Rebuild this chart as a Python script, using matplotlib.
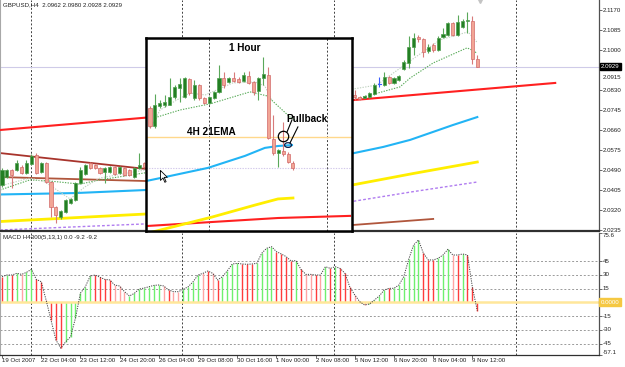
import numpy as np
import matplotlib
matplotlib.use("Agg")
import matplotlib.pyplot as plt
from matplotlib import font_manager
from matplotlib.patches import Rectangle, Ellipse
from matplotlib.path import Path

# ====================== DATA ======================
symbol = "GBPUSD"
timeframe = "H4"
macd_title = "MACD H4300(5,13,1) 0.0 -9.2 -9.2"
inset_title = "1 Hour"
ema_label = "4H 21EMA"
pullback_label = "Pullback"

# H4 candles visible outside the inset (bar index)
h4_bar = list(range(0, 30)) + list(range(72, 98))
h4_open = [2.0426, 2.0460, 2.0490, 2.0490, 2.0503, 2.0477, 2.0516, 2.0554, 2.0481, 2.0520,
           2.0439, 2.0333, 2.0290, 2.0312, 2.0350, 2.0363, 2.0435, 2.0473, 2.0520, 2.0511,
           2.0499, 2.0481, 2.0481, 2.0503, 2.0477, 2.0499, 2.0490, 2.0460, 2.0499, 2.0520,
           2.0809, 2.0800, 2.0798, 2.0800, 2.0813, 2.0856, 2.0851, 2.0885, 2.0860, 2.0872,
           2.0919, 2.0945, 2.1013, 2.1055, 2.1047, 2.0996, 2.1021, 2.1000, 2.1055, 2.1064,
           2.1115, 2.1064, 2.1098, 2.1123, 2.1123, 2.0962]
h4_high = [2.0499, 2.0494, 2.0494, 2.0532, 2.0511, 2.0532, 2.0558, 2.0562, 2.0524, 2.0524,
           2.0443, 2.0337, 2.0320, 2.0367, 2.0371, 2.0439, 2.0503, 2.0515, 2.0524, 2.0515,
           2.0503, 2.0503, 2.0507, 2.0507, 2.0507, 2.0503, 2.0494, 2.0503, 2.0562, 2.0524,
           2.0830, 2.0804, 2.0809, 2.0821, 2.0860, 2.0885, 2.0907, 2.0890, 2.0885, 2.0894,
           2.0958, 2.1060, 2.1072, 2.1064, 2.1051, 2.1026, 2.1030, 2.1060, 2.1094, 2.1119,
           2.1119, 2.1149, 2.1132, 2.1162, 2.1145, 2.0980]
h4_low = [2.0418, 2.0456, 2.0414, 2.0486, 2.0473, 2.0473, 2.0511, 2.0473, 2.0477, 2.0435,
          2.0290, 2.0265, 2.0282, 2.0307, 2.0346, 2.0358, 2.0430, 2.0469, 2.0494, 2.0494,
          2.0473, 2.0435, 2.0477, 2.0469, 2.0473, 2.0465, 2.0465, 2.0456, 2.0494, 2.0499,
          2.0788, 2.0788, 2.0796, 2.0796, 2.0809, 2.0843, 2.0847, 2.0856, 2.0856, 2.0868,
          2.0915, 2.0924, 2.0979, 2.1034, 2.0970, 2.0987, 2.0992, 2.0996, 2.1051, 2.1060,
          2.1060, 2.1060, 2.1094, 2.1072, 2.0940, 2.0928]
h4_close = [2.0490, 2.0490, 2.0469, 2.0520, 2.0477, 2.0520, 2.0550, 2.0477, 2.0520, 2.0439,
            2.0333, 2.0299, 2.0316, 2.0363, 2.0367, 2.0435, 2.0490, 2.0511, 2.0499, 2.0499,
            2.0477, 2.0499, 2.0503, 2.0473, 2.0503, 2.0469, 2.0469, 2.0499, 2.0511, 2.0503,
            2.0800, 2.0792, 2.0804, 2.0817, 2.0851, 2.0856, 2.0885, 2.0860, 2.0881, 2.0890,
            2.0949, 2.1013, 2.1051, 2.1047, 2.0992, 2.1013, 2.1000, 2.1051, 2.1068, 2.1115,
            2.1064, 2.1119, 2.1123, 2.1128, 2.0962, 2.0929]

# H4 moving averages / trend lines (bar, price)
ema_blue_bar = [-0.4, 15, 29.4, 71.4, 77.8, 83.3, 88, 92, 97]
ema_blue_val = [2.0386, 2.0392, 2.0405, 2.0560, 2.0588, 2.0618, 2.0652, 2.0681, 2.0715]
ma_yellow_bar = [-0.4, 29.4, 71.4, 83.9, 97]
ma_yellow_val = [2.0271, 2.0303, 2.0426, 2.0475, 2.0524]
ma_purple_bar = [-0.4, 29.4, 71.4, 83.9, 97]
ma_purple_val = [2.0235, 2.0261, 2.0356, 2.0398, 2.0439]
ma_slow_bar = [-0.4, 5.7, 9.8, 15.9, 20.0, 29.2, 71.6, 81.2, 83.3, 88.0, 94.9, 95.9, 96.9]
ma_slow_val = [2.0405, 2.0448, 2.0443, 2.0430, 2.0448, 2.0478, 2.0788, 2.0843, 2.0881, 2.0945, 2.1009, 2.1000, 2.0987]
ma_fast_bar = [-0.4, 5.7, 8.8, 13.9, 16.9, 20.0, 29.2, 71.6, 76.5, 82.7, 89.4, 95.1, 96.9]
ma_fast_val = [2.0422, 2.0456, 2.0439, 2.0367, 2.0418, 2.0456, 2.0490, 2.0834, 2.0851, 2.0945, 2.1043, 2.1077, 2.1034]
trend_red_bar = [-0.4, 112.9]
trend_red_val = [2.0660, 2.0860]
trend_brown1_bar = [-0.4, 29.6]
trend_brown1_val = [2.0562, 2.0494]
trend_brown2_bar = [-0.4, 29.6]
trend_brown2_val = [2.0460, 2.0443]
trend_brown3_bar = [71.4, 88.0]
trend_brown3_val = [2.0256, 2.0282]
bid_price = 2.0929

price_ticks = [2.1170, 2.1085, 2.1000, 2.0915, 2.0830, 2.0745, 2.0660,
               2.0575, 2.0490, 2.0405, 2.0320, 2.0235]
grid_bars = [5.9, 36.7, 67.8, 104.9]

# MACD histogram (one value per H4 bar, 0..97)
macd_values = [28, 29.8, 29.8, 31.6, 30.5, 32.7, 36, 25, 22.5, 2.5,
               -19.3, -41, -50, -43, -37.5, -17, 10, 17, 28.7, 29.8,
               27.3, 25, 24.4, 18.9, 17.8, 11.6, 6.9, 9.8, 14.5, 15.6,
               17, 18.5, 18.9, 17.8, 13.5, 11.6, 11.6, 14.2, 17, 22.5,
               29.8, 31.6, 34.2, 31.6, 24.4, 28, 34.5, 41.8, 42.5, 41.8,
               41.5, 41.8, 42.5, 53.5, 58.9, 60.7, 55.3, 52.7, 49.8, 45,
               45.5, 36, 30.5, 30.5, 29.8, 29.8, 38.9, 37, 38.9, 37,
               31.6, 16.4, 8, 0.7, -2.9, -1.8, 2.5, 6.9, 13.5, 15.3,
               15.3, 18.9, 28, 46.9, 62.5, 68, 53.5, 46.2, 46.2, 48,
               51.6, 57.8, 51.6, 51.6, 52.7, 51.6, 16.4, -9.2]
macd_state = list("rgrgpggrrp" "rrrggggggr" "rrrpppgggg" "gggprppggg"
                  "gprprggggr" "rrggggrrrr" "grpprpgrgr" "rrpppggggr"
                  "ggggggrrrg" "ggprgrrr")
macd_ticks = [75.6, 45, 30, 15, -15, -30, -45, -57.1]
macd_grid = [45, 30, 15, -15, -30, -45]

date_bars = [0, 8, 16, 24, 32, 40, 48, 56, 64, 72, 80, 88, 96]
date_labels = ["19 Oct 2007", "22 Oct 04:00", "23 Oct 12:00", "24 Oct 20:00",
               "26 Oct 04:00", "29 Oct 08:00", "30 Oct 16:00", "1 Nov 00:00",
               "2 Nov 08:00", "5 Nov 12:00", "6 Nov 20:00", "8 Nov 04:00", "9 Nov 12:00"]

# 1-hour inset candles
h1_open = [2.0754, 2.0677, 2.0762, 2.0766, 2.0766, 2.0800, 2.0839, 2.0800, 2.0877, 2.0796,
           2.0851, 2.0796, 2.0775, 2.0796, 2.0822, 2.0881, 2.0864, 2.0881, 2.0877, 2.0868,
           2.0890, 2.0864, 2.0826, 2.0881, 2.0894, 2.0622, 2.0562, 2.0571, 2.0558, 2.0520]
h1_high = [2.0762, 2.0813, 2.0788, 2.0809, 2.0881, 2.0851, 2.0881, 2.0885, 2.0881, 2.0873,
           2.0856, 2.0800, 2.0805, 2.0826, 2.0936, 2.0907, 2.0885, 2.0907, 2.0885, 2.0907,
           2.0911, 2.0868, 2.0885, 2.0970, 2.0928, 2.0724, 2.0579, 2.0694, 2.0567, 2.0528]
h1_low = [2.0669, 2.0669, 2.0754, 2.0758, 2.0766, 2.0792, 2.0779, 2.0796, 2.0809, 2.0788,
          2.0788, 2.0771, 2.0771, 2.0792, 2.0817, 2.0839, 2.0860, 2.0864, 2.0860, 2.0864,
          2.0856, 2.0809, 2.0788, 2.0851, 2.0622, 2.0554, 2.0503, 2.0550, 2.0520, 2.0490]
h1_close = [2.0677, 2.0766, 2.0775, 2.0779, 2.0800, 2.0843, 2.0856, 2.0881, 2.0817, 2.0851,
            2.0796, 2.0775, 2.0800, 2.0822, 2.0881, 2.0851, 2.0881, 2.0868, 2.0864, 2.0894,
            2.0860, 2.0822, 2.0881, 2.0898, 2.0626, 2.0562, 2.0575, 2.0558, 2.0524, 2.0499]
h1_ema_bar = [-0.81, 3.04, 11.76, 19.27, 23.3, 25.96, 28.8]
h1_ema_val = [2.0443, 2.0460, 2.0499, 2.0550, 2.0584, 2.0592, 2.0596]
h1_yellow_bar = [0.4, 12.58, 21.3, 25.96, 29.0]
h1_yellow_val = [2.0226, 2.0290, 2.0341, 2.0367, 2.0371]
h1_red_bar = [-0.6, 12.58, 25.96, 40.57]
h1_red_val = [2.0252, 2.0269, 2.0286, 2.0295]
h1_slow_bar = [0, 1.42, 6.09, 12.17, 20.28, 23.73, 28.4, 29.4]
h1_slow_val = [2.0669, 2.0715, 2.0745, 2.0771, 2.0822, 2.0805, 2.0715, 2.0703]
h1_fast_bar = [0.4, 2.03, 5.48, 8.1, 11.2, 16.8, 21.3, 23.3, 24.7]
h1_fast_val = [2.0681, 2.0745, 2.0788, 2.0817, 2.0809, 2.0860, 2.0864, 2.0847, 2.0788]
h1_level = 2.0630
h1_bid = 2.0497
h1_grid = [11.97, 35.9]

# ====================== LAYOUT ======================
W, H, DPI = 625, 367, 100
X0_PX, BAR_PX = 2.0, 4.9
AXIS_PX = 599
PRICE_PX = (0, 231)
MACD_PX = (233, 354.7)
PX_PER_PRICE = 1 / 0.000425
PRICE_TOP = 2.12125
INSET_PX = (146, 38, 352, 231)
INSET_X0, INSET_BAR = 150.0, 4.93

names = {f.name for f in font_manager.fontManager.ttflist}
if "Liberation Sans Narrow" in names:
    SMALL = dict(family="Liberation Sans Narrow", fontsize=5.0)
else:
    SMALL = dict(family="Liberation Sans", fontsize=4.4)
BOLD = dict(family="Liberation Sans", fontsize=7.2, fontweight="bold")

fig = plt.figure(figsize=(W / DPI, H / DPI), dpi=DPI, facecolor="white")


def rect(x0, y0, x1, y1):
    return [x0 / W, 1 - y1 / H, (x1 - x0) / W, (y1 - y0) / H]


ax = fig.add_axes(rect(0, PRICE_PX[0], AXIS_PX, PRICE_PX[1]))
axm = fig.add_axes(rect(0, MACD_PX[0], AXIS_PX, MACD_PX[1]))
xlim = ((0 - X0_PX) / BAR_PX, (AXIS_PX - X0_PX) / BAR_PX)
for a in (ax, axm):
    a.set_xlim(*xlim)
    a.set_facecolor("white")
    a.spines["top"].set_visible(False)
    a.spines["left"].set_color("#a8a8a8")
    a.spines["left"].set_linewidth(0.8)
    a.spines["right"].set_color("#505050")
    a.spines["right"].set_linewidth(0.9)
    a.yaxis.tick_right()
    a.tick_params(axis="y", length=2, width=0.6, color="#505050", labelright=False, labelleft=False)
ax.set_ylim(PRICE_TOP - (PRICE_PX[1] - PRICE_PX[0]) / PX_PER_PRICE, PRICE_TOP)
axm.set_ylim(-57.1, 75.6)
ax.spines["bottom"].set_color("#303030")
ax.spines["bottom"].set_linewidth(1.6)
axm.spines["bottom"].set_color("#303030")
axm.spines["bottom"].set_linewidth(0.9)
ax.set_xticks([])
axm.set_xticks(date_bars)
axm.tick_params(axis="x", length=2, width=0.6, color="#505050", labelbottom=False)
ax.set_yticks(price_ticks)
axm.set_yticks(macd_ticks)

BULL = ("#237f23", "#4f9f4f", "#5aa85a")
BEAR = ("#f2a595", "#d26a6a", "#d87a7a")
DOJI = "#3a5cff"


def candles(axis, xs, o, h, l, c, w):
    for x, oo, hh, ll, cc in zip(xs, o, h, l, c):
        if cc > oo:
            body, edge, wick = BULL
        elif cc < oo:
            body, edge, wick = BEAR
        else:
            body = edge = wick = DOJI
        axis.plot([x, x], [ll, hh], color=wick, lw=0.8, zorder=3, solid_capstyle="butt")
        if cc == oo:
            axis.plot([x - w / 2, x + w / 2], [oo, oo], color=wick, lw=0.8, zorder=4)
        else:
            axis.add_patch(Rectangle((x - w / 2, min(oo, cc)), w, abs(cc - oo),
                                     facecolor=body, edgecolor=edge, lw=0.5, zorder=4))


GRID_KW = dict(color="#404040", lw=0.7, linestyle=(0, (2, 2)), zorder=0.5)
DOT = (0, (1.2, 1.2))

# ---------------- price pane ----------------
for g in grid_bars:
    ax.axvline(g, **GRID_KW)
    axm.axvline(g, **GRID_KW)
ax.axhline(bid_price, color="#cfcbe8", lw=0.8, zorder=0.8)
ax.plot(trend_brown1_bar, trend_brown1_val, color="#a8342c", lw=1.3, zorder=2)
ax.plot(trend_brown2_bar, trend_brown2_val, color="#b0563c", lw=1.3, zorder=2)
ax.plot(trend_brown3_bar, trend_brown3_val, color="#b0563c", lw=1.3, zorder=2)
ax.plot(ma_purple_bar, ma_purple_val, color="#b07cf0", lw=1.0, linestyle=(0, (2, 1.5)), zorder=2)
ax.plot(ma_yellow_bar, ma_yellow_val, color="#ffee00", lw=2.0, zorder=2)
ax.plot(ema_blue_bar, ema_blue_val, color="#22b4f5", lw=1.5, zorder=2)
ax.plot(ma_slow_bar, ma_slow_val, color="#58aa58", lw=0.8, linestyle=DOT, zorder=2.5)
ax.plot(ma_fast_bar, ma_fast_val, color="#c0d2c0", lw=0.8, linestyle=DOT, zorder=2.5)
ax.plot(trend_red_bar, trend_red_val, color="#ff2020", lw=1.5, zorder=2.6)
candles(ax, h4_bar, h4_open, h4_high, h4_low, h4_close, 0.62)

ax.plot([h4_bar[-1] + 0.6], [ax.get_ylim()[1]], marker="v", ms=5, color="#c4c4c4",
        clip_on=False, zorder=5)

last = (h4_open[-1], h4_high[-1], h4_low[-1], h4_close[-1])
ax.annotate(f"{symbol},{timeframe}  " + " ".join(f"{v:.4f}" for v in last),
            xy=(0, 1), xycoords="axes fraction", xytext=(3, -2), textcoords="offset pixels",
            ha="left", va="top", color="#202020", **SMALL)

for t in price_ticks:
    # the label right under the bid box peeks out just below it, as in MT4
    near_bid = abs(t - bid_price) < 0.003
    ax.annotate(f"{t:.4f}", xy=(1, t), xycoords=("axes fraction", "data"),
                xytext=(4, -7 if near_bid else 0), textcoords="offset pixels",
                ha="left", va="center", color="#202020",
                annotation_clip=False, **SMALL)
ax.annotate(f"{bid_price:.4f}", xy=(1, bid_price), xycoords=("axes fraction", "data"),
            xytext=(2, 0), textcoords="offset pixels", ha="left", va="center", color="white",
            annotation_clip=False, zorder=10,
            bbox=dict(boxstyle="square,pad=0.15", fc="black", ec="black"), **SMALL)

# ---------------- MACD pane ----------------
palette = {"g": "#6ef06e", "r": "#ff3c3c", "p": "#ffa4a4"}
bars_all = np.arange(len(macd_values))
for y in macd_grid:
    axm.axhline(y, color="#9a9a9a", lw=0.7, linestyle=(0, (2, 2)), zorder=0.5)
axm.vlines(bars_all, 0, macd_values, colors=[palette[s] for s in macd_state], lw=1.0, zorder=2)
axm.axhline(0, color="#ffe79a", lw=1.8, zorder=2.5)
axm.plot(bars_all, macd_values, color="#404040", lw=0.7, linestyle=DOT, zorder=3)
axm.annotate(macd_title, xy=(0, 1), xycoords="axes fraction", xytext=(3, -2),
             textcoords="offset pixels", ha="left", va="top", color="#202020", **SMALL)
for t in macd_ticks:
    va = "top" if t == macd_ticks[0] else ("bottom" if t == macd_ticks[-1] else "center")
    lbl = f"{t:.1f}" if t in (macd_ticks[0], macd_ticks[-1]) else f"{t:g}"
    axm.annotate(lbl, xy=(1, t), xycoords=("axes fraction", "data"), xytext=(4, 0),
                 textcoords="offset pixels", ha="left", va=va, color="#202020",
                 annotation_clip=False, **SMALL)
axm.annotate("0.0000", xy=(1, 0), xycoords=("axes fraction", "data"), xytext=(2, 0),
             textcoords="offset pixels", ha="left", va="center", color="white",
             annotation_clip=False, zorder=10,
             bbox=dict(boxstyle="square,pad=0.25", fc="#f5c842", ec="#f5c842"), **SMALL)
for b, lab in zip(date_bars, date_labels):
    axm.annotate(lab, xy=(b, 0), xycoords=("data", "axes fraction"), xytext=(0, -3),
                 textcoords="offset pixels", ha="left", va="top", color="#202020",
                 annotation_clip=False, **SMALL)

# ---------------- 1-hour inset ----------------
axi = fig.add_axes(rect(*INSET_PX))
axi.set_zorder(5)
axi.set_facecolor("white")
axi.set_xlim((INSET_PX[0] - INSET_X0) / INSET_BAR, (INSET_PX[2] - INSET_X0) / INSET_BAR)
axi.set_ylim(PRICE_TOP - INSET_PX[3] / PX_PER_PRICE, PRICE_TOP - INSET_PX[1] / PX_PER_PRICE)
axi.set_xticks([])
axi.set_yticks([])
for s in axi.spines.values():
    s.set_color("black")
    s.set_linewidth(1.8)
for g in h1_grid:
    axi.axvline(g, **GRID_KW)
axi.axhline(h1_level, color="#ffd88c", lw=1.0, zorder=1)
axi.axhline(h1_bid, color="#d2c8ea", lw=0.8, linestyle=DOT, zorder=1)
axi.plot(h1_red_bar, h1_red_val, color="#ff2020", lw=1.5, zorder=2)
axi.plot(h1_yellow_bar, h1_yellow_val, color="#ffee00", lw=2.0, zorder=2)
axi.plot(h1_ema_bar, h1_ema_val, color="#22b4f5", lw=1.5, zorder=2)
axi.plot(h1_slow_bar, h1_slow_val, color="#58aa58", lw=0.8, linestyle=DOT, zorder=2.5)
axi.plot(h1_fast_bar, h1_fast_val, color="#c0d2c0", lw=0.8, linestyle=DOT, zorder=2.5)
candles(axi, range(len(h1_open)), h1_open, h1_high, h1_low, h1_close, 0.62)

axi.text(19.3, 2.1009, inset_title, ha="center", va="center", color="black", **BOLD)
axi.text(12.4, 2.0652, ema_label, ha="center", va="center", color="black", **BOLD)
axi.text(31.8, 2.0707, pullback_label, ha="center", va="center", color="black", **BOLD)
axi.plot([27.0], [2.0634], marker="o", ms=7.5, mfc="none", mec="black", mew=0.9, zorder=6)
axi.add_patch(Ellipse((28.0, 2.0596), 1.4, 0.0020, fc="none", ec="#10204a", lw=0.9, zorder=6))
axi.plot([27.8, 28.8], [2.0652, 2.0703], color="black", lw=0.8, zorder=6)
axi.plot([28.4, 30.0], [2.0605, 2.0673], color="black", lw=0.8, zorder=6)

cursor = Path([(0, 0), (0, -16), (4, -12), (7, -19), (9, -18), (6, -11), (11, -11), (0, 0)])
axi.plot([2.0], [2.0490], marker=cursor, ms=17, mfc="white", mec="black", mew=0.6, zorder=7)

fig.savefig("out.png", dpi=DPI, facecolor="white")
